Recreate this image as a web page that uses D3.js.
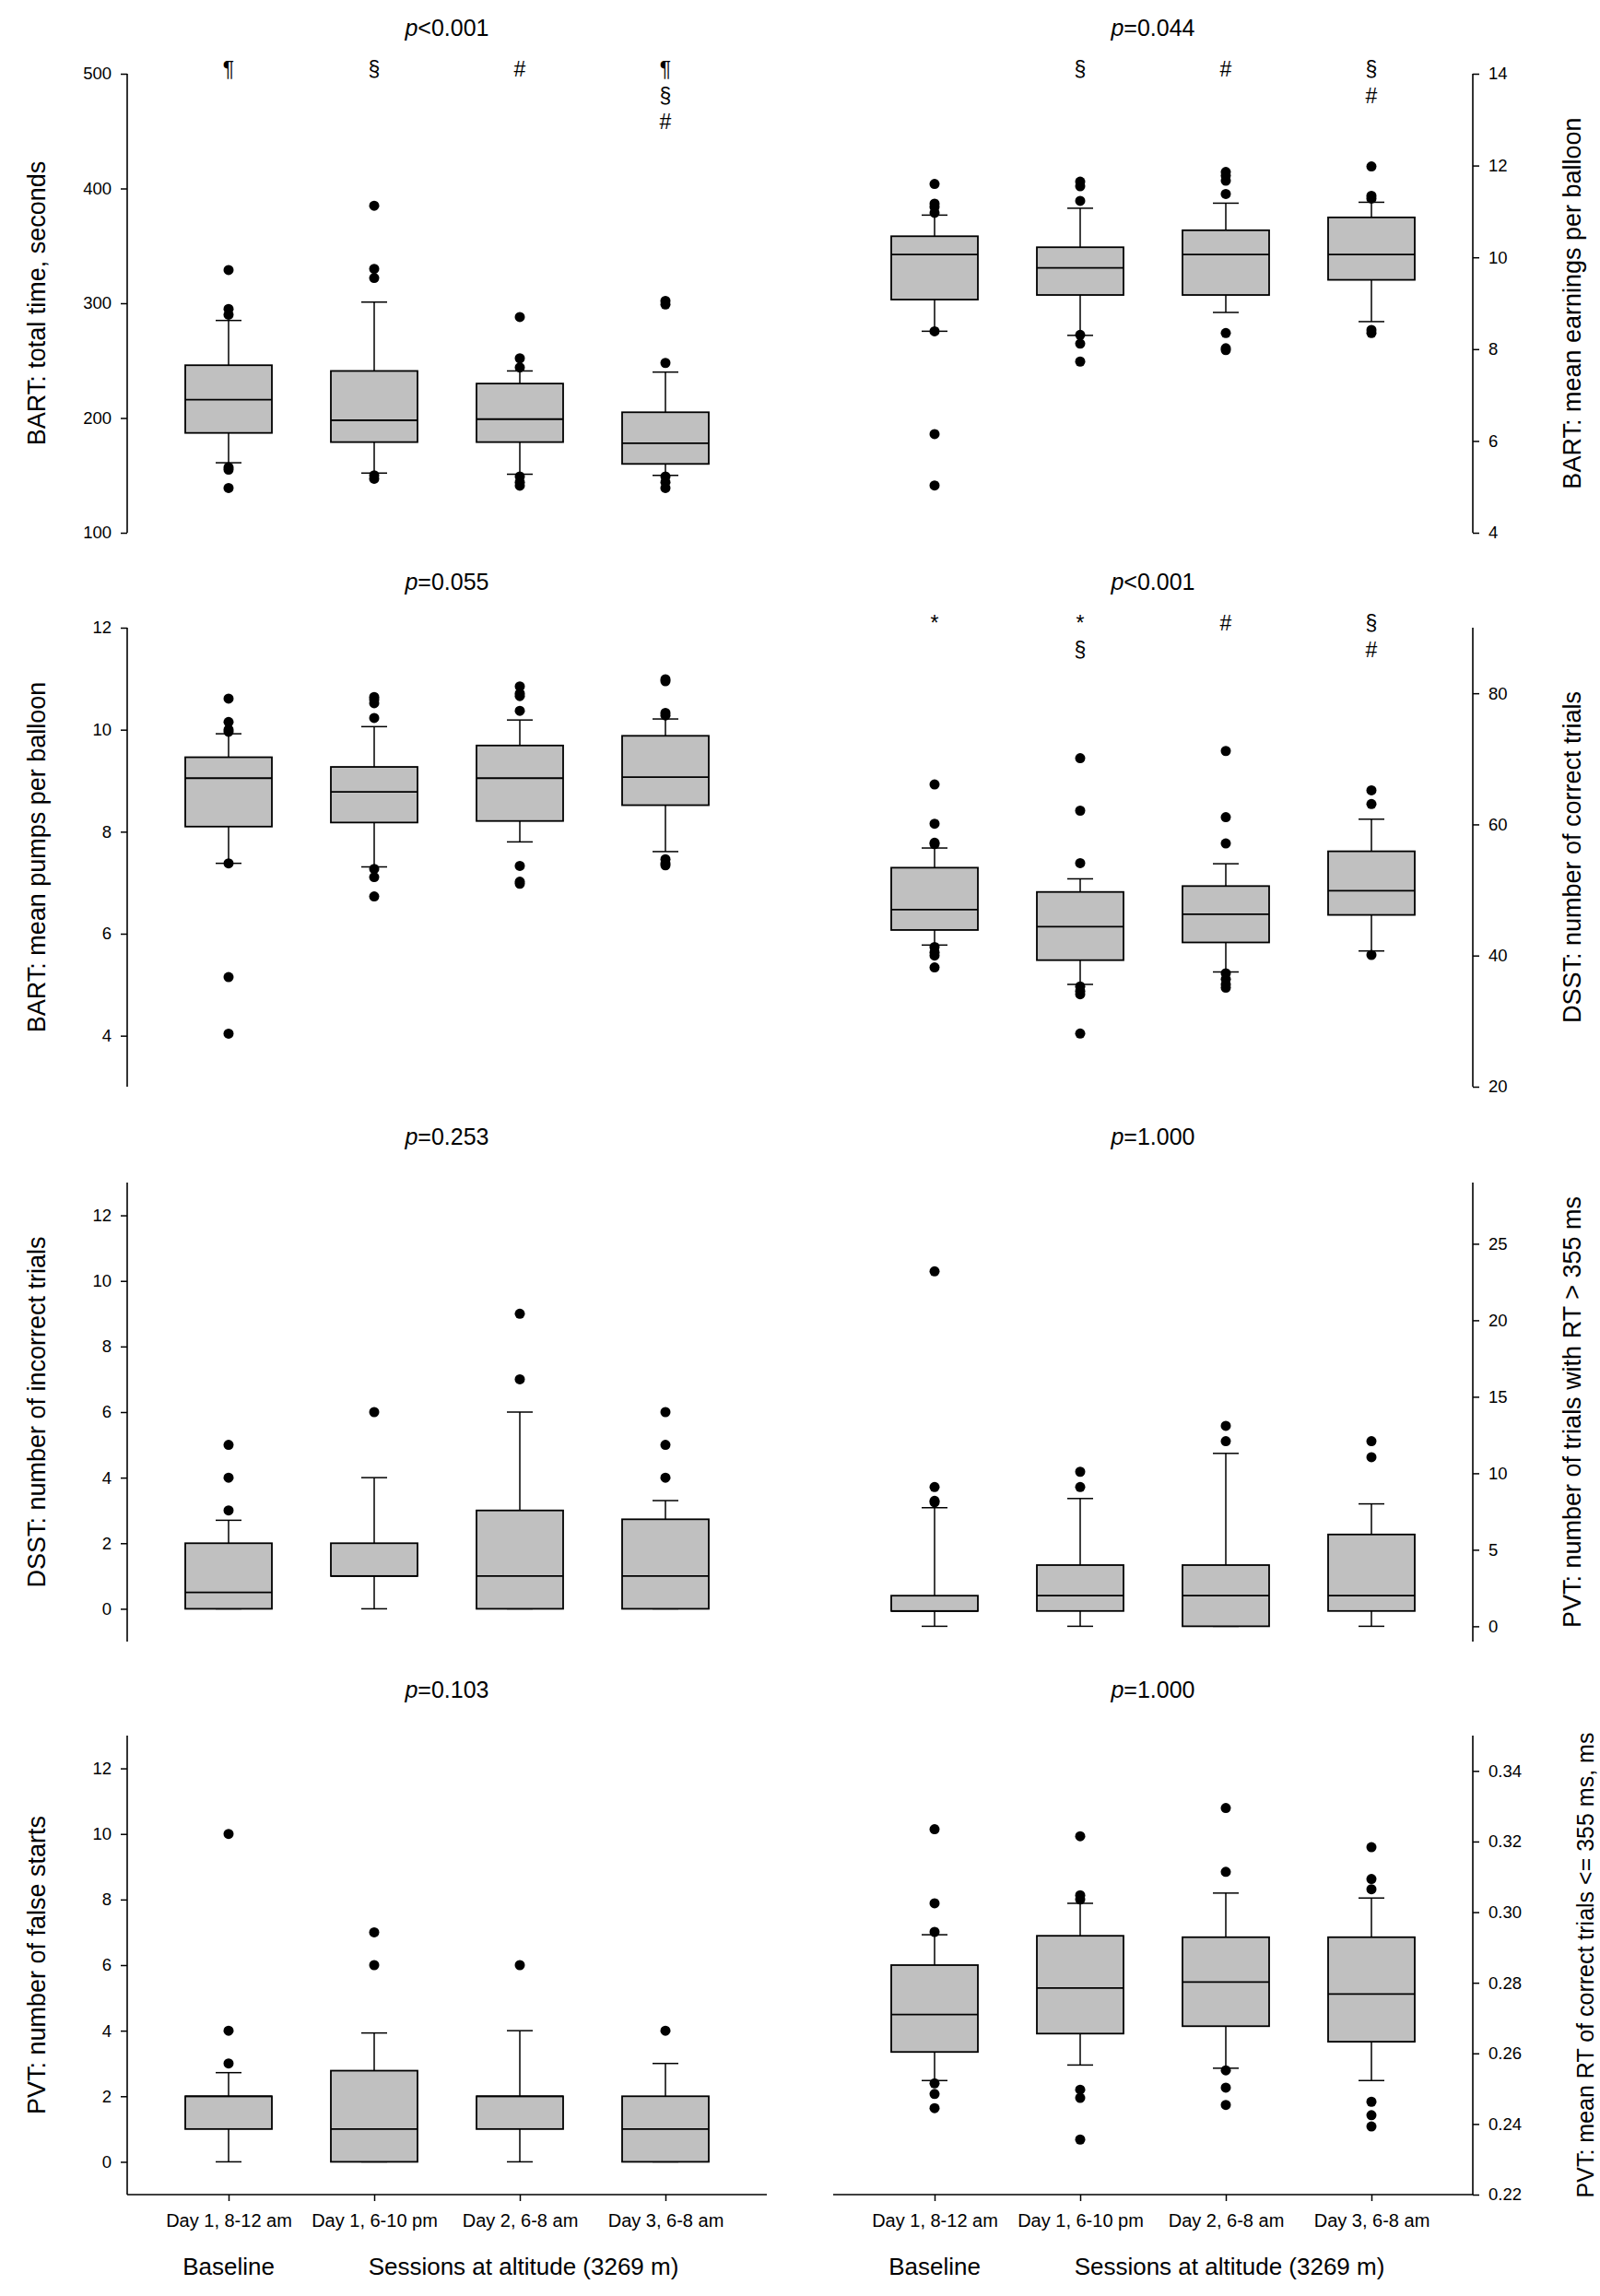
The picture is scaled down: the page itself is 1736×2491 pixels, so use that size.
<!DOCTYPE html>
<html>
<head>
<meta charset="utf-8">
<script src="https://cdn.jsdelivr.net/npm/d3@7"></script>
<style>
  body { margin: 0; background: #fff; }
  text { font-family: Arial, "Liberation Sans", sans-serif; fill: #000; }
</style>
</head>
<body>
<div id="chart"></div>
<script>
var sessions = ["Day 1, 8-12 am", "Day 1, 6-10 pm", "Day 2, 6-8 am", "Day 3, 6-8 am"];
var groupLabels = ["Baseline", "Sessions at altitude (3269 m)"];

// each box: [lower whisker, q1, median, q3, upper whisker]
var bartTimeBoxes = [[161, 187, 216, 246, 285], [152, 179, 198, 241, 301], [151, 179, 199, 230, 241], [150, 160, 178, 205, 240]];
var bartTimeOutliers = [[329, 295, 290, 157, 155, 139], [385, 330, 322, 150, 147], [288, 252, 244, 149, 144, 141], [302, 299, 248, 149, 144, 139]];
var bartTimeTicks = [100, 200, 300, 400, 500];
var bartTimeMarks = [["¶"], ["§"], ["#"], ["¶", "§", "#"]];

var bartEarnBoxes = [[8.39, 9.08, 10.06, 10.46, 10.92], [8.30, 9.18, 9.77, 10.22, 11.07], [8.80, 9.18, 10.06, 10.59, 11.18], [8.60, 9.51, 10.06, 10.87, 11.20]];
var bartEarnOutliers = [[11.6, 11.17, 11.1, 10.97, 8.39, 6.15, 5.03], [11.65, 11.55, 11.23, 8.31, 8.12, 7.73], [11.86, 11.78, 11.67, 11.38, 8.35, 8.02, 7.98], [11.98, 11.34, 11.28, 8.42, 8.35]];
var bartEarnTicks = [4, 6, 8, 10, 12, 14];
var bartEarnMarks = [[], ["§"], ["#"], ["§", "#"]];

var bartPumpBoxes = [[7.38, 8.10, 9.05, 9.46, 9.92], [7.31, 8.18, 8.78, 9.27, 10.06], [7.80, 8.21, 9.05, 9.69, 10.19], [7.61, 8.52, 9.07, 9.88, 10.21]];
var bartPumpOutliers = [[10.61, 10.15, 10.0, 9.96, 7.38, 5.15, 4.04], [10.64, 10.59, 10.52, 10.23, 7.27, 7.11, 6.73], [10.85, 10.71, 10.66, 10.37, 7.33, 7.02, 6.98], [10.99, 10.95, 10.33, 10.28, 7.46, 7.38, 7.34]];
var bartPumpTicks = [4, 6, 8, 10, 12];

var dsstCorrectBoxes = [[41.6, 43.9, 47.0, 53.4, 56.4], [35.6, 39.3, 44.4, 49.7, 51.7], [37.5, 42.0, 46.3, 50.6, 54.0], [40.7, 46.2, 49.9, 55.9, 60.8]];
var dsstCorrectOutliers = [[66.1, 60.1, 57.2, 57.0, 41.3, 40.5, 40.0, 38.2], [70.1, 62.1, 54.1, 35.3, 34.6, 34.1, 28.1], [71.2, 61.1, 57.1, 37.3, 36.4, 35.6, 35.1], [65.2, 63.1, 40.1]];
var dsstCorrectTicks = [20, 40, 60, 80];
var dsstCorrectMarks = [["*"], ["*", "§"], ["#"], ["§", "#"]];

var dsstWrongBoxes = [[0, 0, 0.5, 2, 2.7], [0, 1, 1, 2, 4], [0, 0, 1, 3, 6], [0, 0, 1, 2.73, 3.3]];
var dsstWrongOutliers = [[5, 4, 3], [6], [9, 7], [6, 5, 4]];
var dsstWrongTicks = [0, 2, 4, 6, 8, 10, 12];

var pvtLapseBoxes = [[0, 1, 1, 2, 7.75], [0, 1, 2, 4, 8.35], [0, 0, 2, 4, 11.3], [0, 1, 2, 6, 8]];
var pvtLapseOutliers = [[23.2, 9.1, 8.2, 8.1], [10.1, 9.1], [13.1, 12.1], [12.1, 11.05]];
var pvtLapseTicks = [0, 5, 10, 15, 20, 25];

var pvtFalseBoxes = [[0, 1, 2, 2, 2.72], [0, 0, 1, 2.78, 3.93], [0, 1, 2, 2, 4], [0, 0, 1, 2, 3]];
var pvtFalseOutliers = [[10, 4, 3], [7, 6], [6], [4]];
var pvtFalseTicks = [0, 2, 4, 6, 8, 10, 12];

var pvtRtBoxes = [[0.2523, 0.2604, 0.2710, 0.2850, 0.2936], [0.2567, 0.2656, 0.2785, 0.2933, 0.3025], [0.2558, 0.2677, 0.2802, 0.2929, 0.3054], [0.2523, 0.2633, 0.2768, 0.2929, 0.3040]];
var pvtRtOutliers = [[0.3235, 0.3025, 0.2944, 0.2515, 0.2485, 0.2445], [0.3215, 0.3048, 0.3036, 0.2497, 0.2474, 0.2356], [0.3295, 0.3114, 0.2552, 0.2503, 0.2454], [0.3184, 0.3094, 0.3065, 0.2463, 0.2425, 0.2393]];
var pvtRtTicks = [0.22, 0.24, 0.26, 0.28, 0.30, 0.32, 0.34];

var panels = [
  {row: 0, side: "left", title: "<0.001", label: "BART: total time, seconds", domain: [100, 500], ticks: bartTimeTicks, boxes: bartTimeBoxes, outliers: bartTimeOutliers, marks: bartTimeMarks},
  {row: 0, side: "right", title: "=0.044", label: "BART: mean earnings per balloon", domain: [4, 14], ticks: bartEarnTicks, boxes: bartEarnBoxes, outliers: bartEarnOutliers, marks: bartEarnMarks},
  {row: 1, side: "left", title: "=0.055", label: "BART: mean pumps per balloon", domain: [3, 12], ticks: bartPumpTicks, boxes: bartPumpBoxes, outliers: bartPumpOutliers},
  {row: 1, side: "right", title: "<0.001", label: "DSST: number of correct trials", domain: [20, 90], ticks: dsstCorrectTicks, boxes: dsstCorrectBoxes, outliers: dsstCorrectOutliers, marks: dsstCorrectMarks},
  {row: 2, side: "left", title: "=0.253", label: "DSST: number of incorrect trials", domain: [-1, 13], ticks: dsstWrongTicks, boxes: dsstWrongBoxes, outliers: dsstWrongOutliers},
  {row: 2, side: "right", title: "=1.000", label: "PVT: number of trials with RT > 355 ms", domain: [-1, 29], ticks: pvtLapseTicks, boxes: pvtLapseBoxes, outliers: pvtLapseOutliers},
  {row: 3, side: "left", title: "=0.103", label: "PVT: number of false starts", domain: [-1, 13], ticks: pvtFalseTicks, boxes: pvtFalseBoxes, outliers: pvtFalseOutliers, xaxis: true},
  {row: 3, side: "right", title: "=1.000", label: "PVT: mean RT of correct trials <= 355 ms, ms", domain: [0.22, 0.35], ticks: pvtRtTicks, boxes: pvtRtBoxes, outliers: pvtRtOutliers, xaxis: true, fmt: ".2f", labelShift: 14, labelSize: 25}
];

var W = 1736, H = 2491;
var cols = {left: [138, 832], right: [904, 1598]};
var rowTop = [80, 681, 1283, 1883], rowH = 498;
var boxW = 94, capW = 28;

var svg = d3.select("#chart").append("svg")
  .attr("width", W).attr("height", H)
  .style("background", "#fff");

panels.forEach(function(p) {
  var x0 = cols[p.side][0], x1 = cols[p.side][1];
  var top = rowTop[p.row], bottom = top + rowH;

  var x = d3.scalePoint().domain(sessions).range([x0 + 110, x1 - 110]);
  var y = d3.scaleLinear().domain(p.domain).range([bottom, top]);

  var g = svg.append("g");

  // title
  var t = g.append("text")
    .attr("x", (x0 + x1) / 2).attr("y", top - 41)
    .attr("text-anchor", "middle")
    .style("font-size", "25px");
  t.append("tspan").style("font-style", "italic").text("p");
  t.append("tspan").text(p.title);

  // y axis
  var axisX = p.side == "left" ? x0 : x1;
  var yAxis = (p.side == "left" ? d3.axisLeft(y) : d3.axisRight(y))
    .tickValues(p.ticks)
    .tickSize(7)
    .tickPadding(10)
    .tickFormat(d3.format(p.fmt || "d"));
  var ya = g.append("g")
    .attr("transform", "translate(" + axisX + ",0)")
    .call(yAxis);
  ya.select(".domain").remove();
  ya.selectAll(".tick line").attr("stroke", "#000").attr("stroke-width", 1.5);
  ya.selectAll(".tick text").style("font-size", "18.5px").style("font-family", "Arial, 'Liberation Sans', sans-serif");
  g.append("line")
    .attr("x1", axisX).attr("x2", axisX)
    .attr("y1", top).attr("y2", bottom)
    .attr("stroke", "#000").attr("stroke-width", 1.6);

  // y label
  var lx = p.side == "left" ? 40 : x1 + 108 + (p.labelShift || 0);
  g.append("text")
    .attr("transform", "translate(" + lx + "," + (top + rowH / 2) + ") rotate(-90)")
    .attr("text-anchor", "middle")
    .attr("dy", "0.35em")
    .style("font-size", (p.labelSize || 27) + "px")
    .text(p.label);

  // x axis on bottom row
  if (p.xaxis) {
    var xa = g.append("g")
      .attr("transform", "translate(0," + bottom + ")")
      .call(d3.axisBottom(x).tickSize(7).tickPadding(14));
    xa.select(".domain").remove();
    xa.selectAll(".tick line").attr("stroke", "#000").attr("stroke-width", 1.5);
    xa.selectAll(".tick text").style("font-size", "20px").style("font-family", "Arial, 'Liberation Sans', sans-serif");
    g.append("line")
      .attr("x1", x0).attr("x2", x1)
      .attr("y1", bottom).attr("y2", bottom)
      .attr("stroke", "#000").attr("stroke-width", 1.6);

    g.append("text")
      .attr("x", x(sessions[0])).attr("y", bottom + 87)
      .attr("text-anchor", "middle")
      .style("font-size", "26px")
      .text(groupLabels[0]);
    g.append("text")
      .attr("x", (x(sessions[1]) + x(sessions[3])) / 2 + 4).attr("y", bottom + 87)
      .attr("text-anchor", "middle")
      .style("font-size", "26px")
      .text(groupLabels[1]);
  }

  // boxes
  var box = g.selectAll(".box").data(p.boxes).enter().append("g")
    .attr("class", "box")
    .attr("transform", function(d, i) { return "translate(" + x(sessions[i]) + ",0)"; });

  box.append("line")
    .attr("x1", 0).attr("x2", 0)
    .attr("y1", function(d) { return y(d[3]); })
    .attr("y2", function(d) { return y(d[4]); })
    .attr("stroke", "#000").attr("stroke-width", 1.5);
  box.append("line")
    .attr("x1", 0).attr("x2", 0)
    .attr("y1", function(d) { return y(d[1]); })
    .attr("y2", function(d) { return y(d[0]); })
    .attr("stroke", "#000").attr("stroke-width", 1.5);
  box.selectAll(".cap").data(function(d) { return [d[0], d[4]]; }).enter().append("line")
    .attr("class", "cap")
    .attr("x1", -capW / 2).attr("x2", capW / 2)
    .attr("y1", function(v) { return y(v); })
    .attr("y2", function(v) { return y(v); })
    .attr("stroke", "#000").attr("stroke-width", 1.5);
  box.append("rect")
    .attr("x", -boxW / 2).attr("width", boxW)
    .attr("y", function(d) { return y(d[3]); })
    .attr("height", function(d) { return y(d[1]) - y(d[3]); })
    .attr("fill", "#c0c0c0")
    .attr("stroke", "#000").attr("stroke-width", 1.8);
  box.append("line")
    .attr("x1", -boxW / 2).attr("x2", boxW / 2)
    .attr("y1", function(d) { return y(d[2]); })
    .attr("y2", function(d) { return y(d[2]); })
    .attr("stroke", "#000").attr("stroke-width", 1.8);

  // outliers
  box.each(function(d, i) {
    d3.select(this).selectAll(".dot").data(p.outliers[i]).enter().append("circle")
      .attr("class", "dot")
      .attr("cx", 0)
      .attr("cy", function(v) { return y(v); })
      .attr("r", 5.5)
      .attr("fill", "#000");
  });

  // significance marks
  if (p.marks) {
    p.marks.forEach(function(m, i) {
      m.forEach(function(s, j) {
        g.append("text")
          .attr("x", x(sessions[i])).attr("y", top + 3 + j * 28.5)
          .attr("text-anchor", "middle")
          .style("font-size", "23px")
          .text(s);
      });
    });
  }
});
</script>
</body>
</html>
